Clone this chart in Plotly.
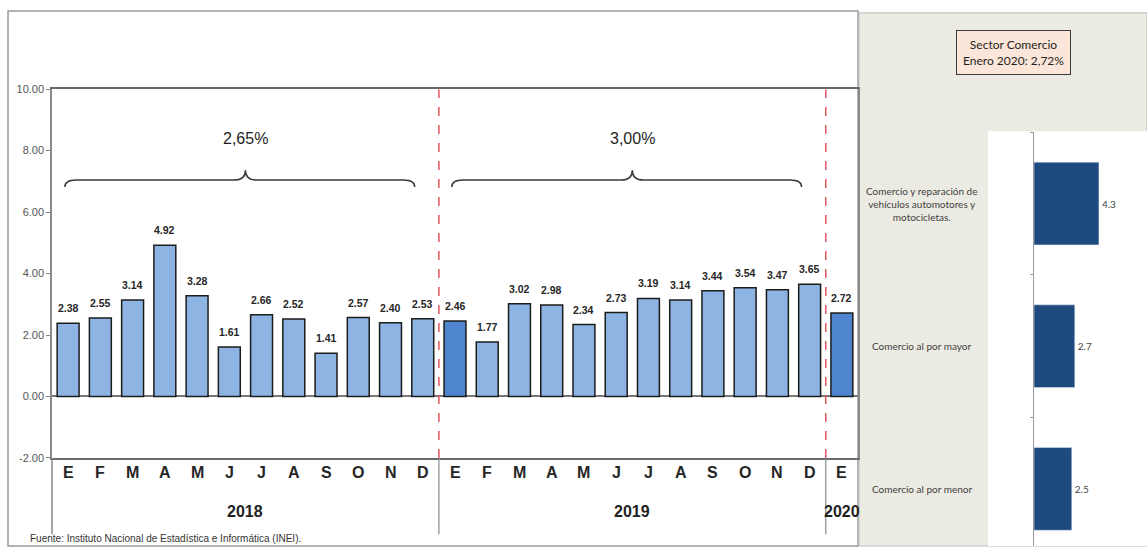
import plotly.graph_objects as go

# ---- data -------------------------------------------------------------
years = ["2018", "2019", "2020"]
month_names = ["Ene", "Feb", "Mar", "Abr", "May", "Jun", "Jul", "Ago", "Sep", "Oct", "Nov", "Dic"]
growth_2018 = [2.38, 2.55, 3.14, 4.92, 3.28, 1.61, 2.66, 2.52, 1.41, 2.57, 2.40, 2.53]
growth_2019 = [2.46, 1.77, 3.02, 2.98, 2.34, 2.73, 3.19, 3.14, 3.44, 3.54, 3.47, 3.65]
growth_2020 = [2.72]
annual_rates = {"2018": "2,65%", "2019": "3,00%"}
highlighted = ["Ene 2019", "Ene 2020"]

subsectors = [
    "Comercio y reparación de<br>vehículos automotores y<br>motocicletas.",
    "Comercio al por mayor",
    "Comercio al por menor",
]
subsector_growth = [4.3, 2.7, 2.5]
summary_text = "Sector Comercio<br>Enero 2020: 2,72%"
source_text = "Fuente: Instituto Nacional de Estadística e Informática (INEI)."
y_ticks = [-2, 0, 2, 4, 6, 8, 10]

# ---- derived series ----------------------------------------------------
series = {"2018": growth_2018, "2019": growth_2019, "2020": growth_2020}
periods, letters, values = [], [], []
for yr in years:
    for i, v in enumerate(series[yr]):
        periods.append(f"{month_names[i]} {yr}")
        letters.append(month_names[i][0])
        values.append(v)

LIGHT = "#8db4e2"
DARK = "#4f84cf"
colors = [DARK if p in highlighted else LIGHT for p in periods]

W, H = 1147, 552
SANS = "Liberation Sans, Arial, sans-serif"
CAL = "Lato, Open Sans, sans-serif"


def px(x):
    return x / W


def py(y):
    return 1 - y / H


fig = go.Figure()

# main monthly bars
fig.add_trace(go.Bar(
    x=periods, y=values,
    marker=dict(color=colors, line=dict(color="#1c1c1c", width=1.5)),
    width=0.68,
    xaxis="x", yaxis="y",
    showlegend=False, hoverinfo="skip",
))

# subsector bars
fig.add_trace(go.Bar(
    x=subsector_growth, y=subsectors, orientation="h",
    marker=dict(color="#1f4a80"),
    width=0.58,
    text=[f"{v:.1f}" for v in subsector_growth],
    textposition="outside",
    textfont=dict(family=CAL, size=10, color="#444444"),
    cliponaxis=False,
    xaxis="x2", yaxis="y2",
    showlegend=False, hoverinfo="skip",
))

shapes = []
annotations = []

# value labels above the monthly bars
for p, v in zip(periods, values):
    annotations.append(dict(x=p, y=v, xref="x", yref="y", text=f"<b>{v:.2f}</b>",
                            showarrow=False, xanchor="center", yanchor="bottom", yshift=7,
                            font=dict(family=SANS, size=10.5, color="#262626")))

# panel backgrounds / frames
shapes.append(dict(type="rect", xref="paper", yref="paper",
                   x0=px(8), x1=px(858), y0=py(552), y1=py(5),
                   line=dict(color="#9a9a9a", width=1.5), fillcolor="white", layer="below"))
shapes.append(dict(type="rect", xref="paper", yref="paper",
                   x0=px(859), x1=px(1147), y0=py(552), y1=py(7),
                   line=dict(color="#bdbdbd", width=1), fillcolor="#ecebe3", layer="below"))
shapes.append(dict(type="rect", xref="paper", yref="paper",
                   x0=px(988), x1=px(1147), y0=py(552), y1=py(128),
                   line=dict(width=0), fillcolor="white", layer="below"))

# left axis line continuing under the category labels
shapes.append(dict(type="line", xref="paper", yref="paper",
                   x0=px(52), x1=px(52), y0=py(462), y1=py(540),
                   line=dict(color="#8a8a8a", width=1.5)))

# year separators and dashed markers
n2018 = len(growth_2018)
n2019 = len(growth_2019)
for boundary in [n2018 - 0.5, n2018 + n2019 - 0.5]:
    shapes.append(dict(type="line", xref="x", yref="paper",
                       x0=boundary, x1=boundary, y0=py(462), y1=py(540),
                       line=dict(color="#8a8a8a", width=1.2)))
    shapes.append(dict(type="line", xref="x", yref="y",
                       x0=boundary, x1=boundary, y0=-2, y1=10,
                       line=dict(color="#e0575f", width=1.5, dash="dash")))

# braces over the 2018 and 2019 months with the annual rate, plus year labels
start = 0
for yr in years:
    n = len(series[yr])
    mid = start + (n - 1) / 2
    if yr in annual_rates:
        x0, x1 = start - 0.1, start + n - 1 - 0.25
        yb, yl, yp = 6.82, 7.04, 7.36
        r = 0.35
        path = (f"M {x0},{yb} Q {x0},{yl} {x0 + r},{yl} "
                f"L {mid - r},{yl} Q {mid},{yl} {mid},{yp} "
                f"Q {mid},{yl} {mid + r},{yl} "
                f"L {x1 - r},{yl} Q {x1},{yl} {x1},{yb}")
        shapes.append(dict(type="path", xref="x", yref="y", path=path,
                           line=dict(color="#3a3a3a", width=1.5)))
        annotations.append(dict(x=mid, y=8.38, xref="x", yref="y", text=annual_rates[yr],
                                showarrow=False, xanchor="center",
                                font=dict(family=SANS, size=16, color="#1f1f1f")))
    annotations.append(dict(x=mid, y=py(527), xref="x", yref="paper", text=f"<b>{yr}</b>",
                            showarrow=False, xanchor="center",
                            font=dict(family=SANS, size=16, color="#1f1f1f")))
    start += n

# month letters
for p, m in zip(periods, letters):
    annotations.append(dict(x=p, y=py(488), xref="x", yref="paper", text=f"<b>{m}</b>",
                            showarrow=False, xanchor="center",
                            font=dict(family=SANS, size=16, color="#262626")))

# subsector labels
for s in subsectors:
    annotations.append(dict(x=px(922), y=s, xref="paper", yref="y2", text=s,
                            showarrow=False, align="center", xanchor="center",
                            font=dict(family=CAL, size=10, color="#404040")))

# summary box
annotations.append(dict(x=px(1013), y=py(48), xref="paper", yref="paper", text=summary_text,
                        showarrow=False, align="center", xanchor="center", yanchor="middle",
                        bgcolor="#fbe6d9", bordercolor="#3a3a3a", borderwidth=1, borderpad=6,
                        font=dict(family=CAL, size=12, color="#1f1f1f")))

# source line
annotations.append(dict(x=px(28), y=0, xref="paper", yref="paper", text=source_text,
                        showarrow=False, xanchor="left", yanchor="bottom",
                        font=dict(family=SANS, size=10, color="#333333")))

fig.update_layout(
    width=W, height=H,
    margin=dict(l=0, r=0, t=0, b=0),
    paper_bgcolor="white", plot_bgcolor="rgba(0,0,0,0)",
    xaxis=dict(domain=[px(52), px(858)], range=[-0.5, len(periods) - 0.5],
               type="category", showticklabels=False, ticks="",
               showline=True, linecolor="#6a6a6a", linewidth=2, mirror=True,
               showgrid=False, zeroline=False, anchor="y", fixedrange=True),
    yaxis=dict(domain=[py(462), py(85)], range=[-2, 10], tickvals=y_ticks,
               ticktext=[f"{v:.2f}" for v in y_ticks],
               ticks="outside", ticklen=4, tickcolor="#8a8a8a",
               tickfont=dict(family=SANS, size=11, color="#555555"),
               showline=True, linecolor="#8a8a8a", linewidth=1.5, mirror=True,
               showgrid=False, zeroline=True, zerolinecolor="#777777", zerolinewidth=1.5,
               anchor="x", fixedrange=True),
    xaxis2=dict(domain=[px(1034), 1.0], range=[0, 7.48],
                showticklabels=False, showline=False, showgrid=False, zeroline=False,
                ticks="", anchor="y2", fixedrange=True),
    yaxis2=dict(domain=[0, py(129)], type="category",
                range=[2.4, -0.5], showticklabels=False,
                showline=True, linecolor="#9a9a9a", linewidth=1,
                ticks="outside", ticklen=3, tickcolor="#9a9a9a", tickson="boundaries",
                showgrid=False, zeroline=False, anchor="x2", fixedrange=True),
    shapes=shapes,
    annotations=annotations,
)

fig.write_html("out.html")
